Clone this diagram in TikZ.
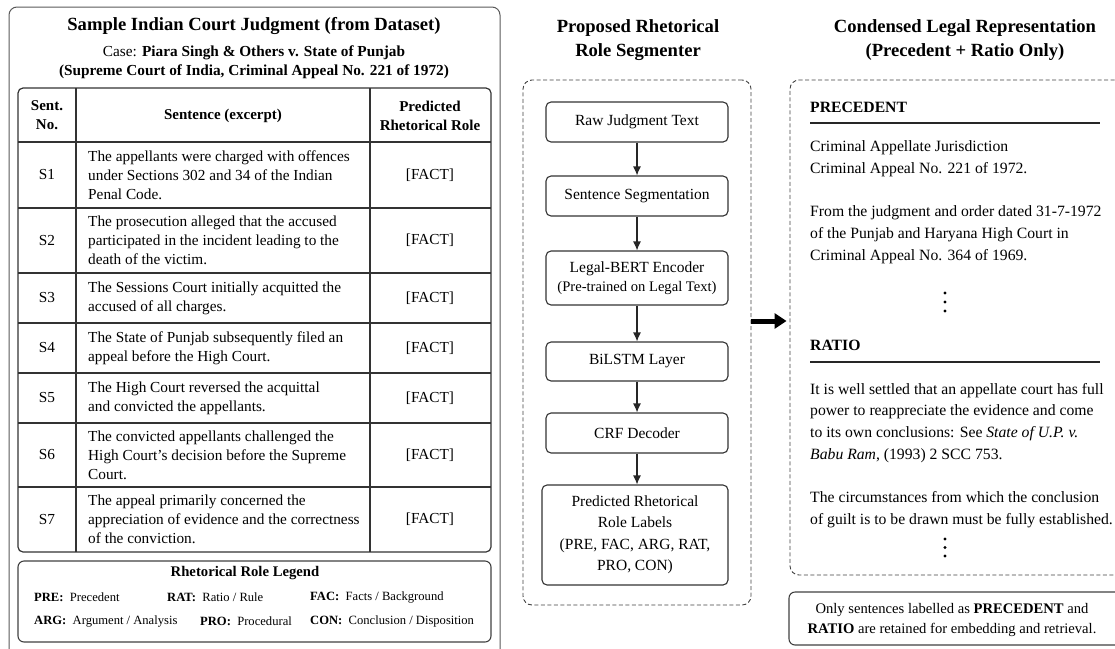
\documentclass[tikz,border=0pt]{standalone}
\usepackage{fontspec}
\setmainfont{Liberation Serif}
\usetikzlibrary{arrows.meta}
\newcommand{\fsz}[2]{\fontsize{#1}{#2}\selectfont}
\begin{document}
\begin{tikzpicture}[x=1pt,y=-1pt,
  outerbox/.style={draw=black!65, line width=1pt, rounded corners=8pt},
  tline/.style={draw=black!80, line width=1.2pt},
  legbox/.style={draw=black!75, line width=1.1pt, rounded corners=6pt},
  ctext/.style={font=\fsz{15.3}{19}, align=left, anchor=west, inner sep=0pt},
  cmid/.style={font=\fsz{15.3}{19}, align=center, inner sep=0pt},
  hdr/.style={font=\bfseries\fsz{15}{19}, align=center, inner sep=0pt},
  legtext/.style={font=\fsz{12.6}{15}, anchor=west, inner sep=0pt},
  title/.style={font=\bfseries\fsz{18.6}{23.5}, align=center, inner sep=0pt},
  dashbox/.style={draw=black!75, line width=0.9pt, dash pattern=on 4pt off 2.5pt, rounded corners=9pt},
  stepbox/.style={draw=black!80, line width=1.1pt, rounded corners=5pt, font=\fsz{15.5}{21.5}, align=center, inner sep=0pt},
  flow/.style={draw=black!85, line width=1.1pt, -{Latex[length=9pt,width=8pt]}},
  bigarrow/.style={draw=black, line width=5pt, -{Triangle[length=12pt,width=15pt]}, shorten >=3pt},
  rtext/.style={font=\fsz{15.7}{21.8}, align=left, anchor=west, inner sep=0pt},
  rhead/.style={font=\bfseries\fsz{15.7}{19}, anchor=west, inner sep=0pt},
  uline/.style={draw=black!85, line width=1.1pt},
  dot/.style={circle, fill=black, inner sep=0pt, minimum size=3.4pt},
  note/.style={draw=black!75, line width=1.1pt, rounded corners=6pt, font=\fsz{14.6}{20}, align=center, inner sep=0pt}
]
\useasboundingbox (0,0) rectangle (1115,648);
\clip (0,0) rectangle (1115,648);

% ---------------- Left panel ----------------
\draw[outerbox] (9,7) rectangle (500,670);
\node[title] (ltitle) at (254,26) {Sample Indian Court Judgment (from Dataset)};
\node[font=\fsz{15.3}{19.5}, align=center, inner sep=0pt] (lcase) at (254,62)
  {Case: \textbf{Piara Singh \& Others v. State of Punjab}\\
   \textbf{(Supreme Court of India, Criminal Appeal No. 221 of 1972)}};

% table
\draw[tline, rounded corners=5pt] (18,88) rectangle (491,552);
\foreach \yy in {142,208,273,323,373,423,487}
  \draw[tline] (18,\yy) -- (491,\yy);
\draw[tline] (76,88) -- (76,552);
\draw[tline] (370,88) -- (370,552);

\node[hdr] (h1) at (47,115.5) {Sent.\\No.};
\node[hdr] (h2) at (223,115.5) {Sentence (excerpt)};
\node[hdr] (h3) at (430,115.5) {Predicted\\Rhetorical Role};

\node[cmid] (n1) at (47,175) {S1};
\node[ctext] (t1) at (88,175) {The appellants were charged with offences\\under Sections 302 and 34 of the Indian\\Penal Code.};
\node[cmid] (r1) at (430,175) {[FACT]};

\node[cmid] (n2) at (47,240.5) {S2};
\node[ctext] (t2) at (88,240.5) {The prosecution alleged that the accused\\participated in the incident leading to the\\death of the victim.};
\node[cmid] (r2) at (430,240.5) {[FACT]};

\node[cmid] (n3) at (47,298) {S3};
\node[ctext] (t3) at (88,298) {The Sessions Court initially acquitted the\\accused of all charges.};
\node[cmid] (r3) at (430,298) {[FACT]};

\node[cmid] (n4) at (47,348) {S4};
\node[ctext] (t4) at (88,348) {The State of Punjab subsequently filed an\\appeal before the High Court.};
\node[cmid] (r4) at (430,348) {[FACT]};

\node[cmid] (n5) at (47,398) {S5};
\node[ctext] (t5) at (88,398) {The High Court reversed the acquittal\\and convicted the appellants.};
\node[cmid] (r5) at (430,398) {[FACT]};

\node[cmid] (n6) at (47,455) {S6};
\node[ctext] (t6) at (88,455) {The convicted appellants challenged the\\High Court's decision before the Supreme\\Court.};
\node[cmid] (r6) at (430,455) {[FACT]};

\node[cmid] (n7) at (47,519.5) {S7};
\node[ctext] (t7) at (88,519.5) {The appeal primarily concerned the\\appreciation of evidence and the correctness\\of the conviction.};
\node[cmid] (r7) at (430,519.5) {[FACT]};

% legend
\draw[legbox] (18,561) rectangle (491,642);
\node[font=\bfseries\fsz{14.7}{18}, inner sep=0pt] (legt) at (245,573) {Rhetorical Role Legend};
\node[legtext] (lg1) at (34,597) {\textbf{PRE:}\ \ Precedent};
\node[legtext] (lg2) at (167,597) {\textbf{RAT:}\ \ Ratio / Rule};
\node[legtext] (lg3) at (310,597) {\textbf{FAC:}\ \ Facts / Background};
\node[legtext] (lg4) at (34,621) {\textbf{ARG:}\ \ Argument / Analysis};
\node[legtext] (lg5) at (200,621) {\textbf{PRO:}\ \ Procedural};
\node[legtext] (lg6) at (310,621) {\textbf{CON:}\ \ Conclusion / Disposition};

% ---------------- Middle panel ----------------
\node[title] (mtitle) at (638,40) {Proposed Rhetorical\\Role Segmenter};
\node[dashbox, minimum width=228pt, minimum height=525pt] (seg) at (637,342.5) {};

\node[stepbox, minimum width=182pt, minimum height=40pt] (raw) at (637,122) {Raw Judgment Text};
\node[stepbox, minimum width=182pt, minimum height=40pt] (sent) at (637,196) {Sentence Segmentation};
\node[stepbox, minimum width=182pt, minimum height=54pt] (bert) at (637,278)
  {Legal-BERT Encoder\\[-3pt]{\fsz{14.6}{18}(Pre-trained on Legal Text)}};
\node[stepbox, minimum width=182pt, minimum height=39pt] (bilstm) at (637,361.5) {BiLSTM Layer};
\node[stepbox, minimum width=182pt, minimum height=40pt] (crf) at (637,433) {CRF Decoder};
\node[stepbox, minimum width=186pt, minimum height=100pt] (pred) at (635,535)
  {Predicted Rhetorical\\Role Labels\\(PRE, FAC, ARG, RAT,\\PRO, CON)};

\draw[flow] (raw) -- (sent);
\draw[flow] (sent) -- (bert);
\draw[flow] (bert) -- (bilstm);
\draw[flow] (bilstm) -- (crf);
\draw[flow] (crf.south) -- (crf.south |- pred.north);

% ---------------- Right panel ----------------
\node[title] (rtitle) at (965,40) {Condensed Legal Representation\\(Precedent + Ratio Only)};
\node[dashbox, minimum width=340pt, minimum height=495pt] (cond) at (960,327.5) {};

\draw[bigarrow] (seg.east |- 0,321) -- (cond.west |- 0,321);

\node[rhead] (prech) at (810,107) {PRECEDENT};
\draw[uline] (810,123) -- (1100,123);
\node[rtext] (p1) at (810,159) {Criminal Appellate Jurisdiction\\Criminal Appeal No. 221 of 1972.};
\node[rtext] (p2) at (810,234.5) {From the judgment and order dated 31-7-1972\\of the Punjab and Haryana High Court in\\Criminal Appeal No. 364 of 1969.};
\node[dot] (pd1) at (945,293) {};
\node[dot] (pd2) at (945,302) {};
\node[dot] (pd3) at (945,311) {};

\node[rhead] (ratioh) at (810,345) {RATIO};
\draw[uline] (810,362) -- (1100,362);
\node[rtext] (q1) at (810,423) {It is well settled that an appellate court has full\\power to reappreciate the evidence and come\\to its own conclusions: See \textit{State of U.P. v.}\\\textit{Babu Ram}, (1993) 2 SCC 753.};
\node[rtext] (q2) at (810,510) {The circumstances from which the conclusion\\of guilt is to be drawn must be fully established.};
\node[dot] (qd1) at (945,539) {};
\node[dot] (qd2) at (945,547.5) {};
\node[dot] (qd3) at (945,556) {};

\node[note, minimum width=341pt, minimum height=53pt] (notebox) at (959.5,618.5) {};
\node[font=\fsz{14.6}{20}, align=center, inner sep=0pt] (notetext) at (952,620)
  {Only sentences labelled as \textbf{PRECEDENT} and\\\textbf{RATIO} are retained for embedding and retrieval.};
\end{tikzpicture}
\end{document}
